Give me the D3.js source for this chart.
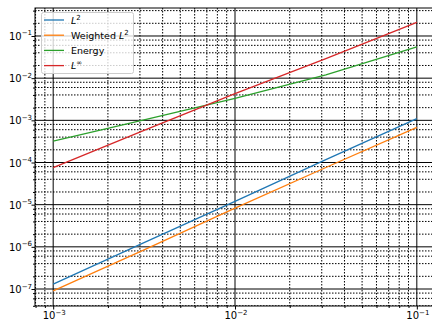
<!DOCTYPE html>
<html>
<head>
<meta charset="utf-8">
<script src="https://cdn.jsdelivr.net/npm/d3@7"></script>
<style>
  body { margin: 0; background: #fff; }
  svg { display: block; font-family: "DejaVu Sans", sans-serif; }
</style>
</head>
<body>
<div id="chart"></div>
<script>
// step sizes h
var hs = [0.001, 0.00316, 0.01, 0.0316, 0.1];

// errors per norm
var l2 = [1.3e-7, 1.26e-6, 1.2e-5, 1.17e-4, 1.1e-3];
var weightedL2 = [9e-8, 8.5e-7, 8.3e-6, 7.6e-5, 6.8e-4];
var energy = [3.2e-4, 1.02e-3, 3.3e-3, 1.2e-2, 5.5e-2];
var linf = [7.6e-5, 5.8e-4, 4.3e-3, 2.9e-2, 0.21];

var seriesNames = ["L2", "WL2", "Energy", "Linf"];
var seriesColors = ["#1f77b4", "#ff7f0e", "#2ca02c", "#d62728"];

var xTicks = [1e-3, 1e-2, 1e-1];
var yTicks = [1e-7, 1e-6, 1e-5, 1e-4, 1e-3, 1e-2, 1e-1];
var xSubs = [2, 3, 4, 5, 6, 7, 8, 9];
var ySubs = [2, 4, 6, 8];

(function(){
	var width = 432, height = 320;
	var left = 35, right = 435, top = 8, bottom = 306;

	var svg = d3.select("#chart").append("svg")
		.attr("width", width)
		.attr("height", height);

	var x = d3.scaleLog().domain([Math.pow(10, -3.1), Math.pow(10, -0.9)]).range([left, right]);
	var y = d3.scaleLog().domain([Math.pow(10, -7.403), Math.pow(10, -0.336)]).range([bottom, top]);

	// minor positions
	var xMinor = [], yMinor = [];
	for (var e = -9; e <= 0; e++) {
		xSubs.forEach(function(k){
			var v = k * Math.pow(10, e);
			if (x(v) > left && x(v) < right) xMinor.push(v);
		});
		ySubs.forEach(function(k){
			var v = k * Math.pow(10, e);
			if (y(v) > top && y(v) < bottom) yMinor.push(v);
		});
	}

	svg.append("defs").append("clipPath").attr("id", "clip")
		.append("rect").attr("x", left).attr("y", top)
		.attr("width", right - left).attr("height", bottom - top);

	var grid = svg.append("g").attr("clip-path", "url(#clip)");

	grid.selectAll(".xminor").data(xMinor).enter().append("line")
		.attr("x1", d => x(d)).attr("x2", d => x(d))
		.attr("y1", top).attr("y2", bottom)
		.attr("stroke", "#000").attr("stroke-width", 1)
		.attr("stroke-dasharray", "1.5,1.5");
	grid.selectAll(".yminor").data(yMinor).enter().append("line")
		.attr("y1", d => y(d)).attr("y2", d => y(d))
		.attr("x1", left).attr("x2", right)
		.attr("stroke", "#000").attr("stroke-width", 1)
		.attr("stroke-dasharray", "1.5,1.5");
	grid.selectAll(".xmajor").data(xTicks).enter().append("line")
		.attr("x1", d => x(d)).attr("x2", d => x(d))
		.attr("y1", top).attr("y2", bottom)
		.attr("stroke", "#000").attr("stroke-width", 1);
	grid.selectAll(".ymajor").data(yTicks).enter().append("line")
		.attr("y1", d => y(d)).attr("y2", d => y(d))
		.attr("x1", left).attr("x2", right)
		.attr("stroke", "#000").attr("stroke-width", 1);

	// lines
	var allSeries = [l2, weightedL2, energy, linf];
	var line = d3.line()
		.x(function(d, i){ return x(hs[i]); })
		.y(function(d){ return y(d); });
	grid.selectAll(".series").data(allSeries).enter().append("path")
		.attr("d", line)
		.attr("fill", "none")
		.attr("stroke", function(d, i){ return seriesColors[i]; })
		.attr("stroke-width", 1.3);

	// spines
	svg.append("rect").attr("x", left).attr("y", top)
		.attr("width", right - left).attr("height", bottom - top)
		.attr("fill", "none").attr("stroke", "#000").attr("stroke-width", 1);

	// axes
	var xAxis = d3.axisBottom(x).tickValues(xTicks.concat(xMinor)).tickFormat("").tickSizeOuter(0)
		.tickSizeInner(2);
	var gx = svg.append("g").attr("transform", "translate(0," + bottom + ")").call(xAxis);
	gx.select(".domain").remove();
	gx.selectAll(".tick line").filter(d => xTicks.indexOf(d) >= 0).attr("y2", 3.5);

	var yAxis = d3.axisLeft(y).tickValues(yTicks.concat(yMinor)).tickFormat("").tickSizeOuter(0)
		.tickSizeInner(2);
	var gy = svg.append("g").attr("transform", "translate(" + left + ",0)").call(yAxis);
	gy.select(".domain").remove();
	gy.selectAll(".tick line").filter(d => yTicks.indexOf(d) >= 0).attr("x2", -3.5);

	function powLabel(sel, d) {
		var e = Math.round(Math.log10(d));
		sel.append("tspan").text("10");
		sel.append("tspan").attr("dy", -4.5).attr("font-size", 7).text("\u2212" + Math.abs(e));
	}

	svg.selectAll(".xlab").data(xTicks).enter().append("text")
		.attr("x", d => x(d) + 1).attr("y", 319)
		.attr("text-anchor", "middle").attr("font-size", 10).attr("fill", "#000")
		.each(function(d){ powLabel(d3.select(this), d); });

	svg.selectAll(".ylab").data(yTicks).enter().append("text")
		.attr("x", 32).attr("y", d => y(d) + 4)
		.attr("text-anchor", "end").attr("font-size", 10).attr("fill", "#000")
		.each(function(d){ powLabel(d3.select(this), d); });

	// legend
	var lg = svg.append("g");
	lg.append("rect").attr("x", 41.5).attr("y", 12.5).attr("width", 92).attr("height", 61)
		.attr("rx", 2).attr("fill", "#fff").attr("fill-opacity", 0.8)
		.attr("stroke", "#ccc").attr("stroke-width", 1);
	var rows = lg.selectAll(".row").data(seriesNames).enter().append("g")
		.attr("transform", function(d, i){ return "translate(0," + (20 + i * 15.2) + ")"; });
	rows.append("line").attr("x1", 44).attr("x2", 64)
		.attr("stroke", function(d, i){ return seriesColors[i]; }).attr("stroke-width", 1.3);
	rows.append("text").attr("x", 71).attr("y", 3.5).attr("font-size", 9.5).attr("fill", "#000")
		.each(function(d){
			var t = d3.select(this);
			if (d == "L2" || d == "WL2") {
				if (d == "WL2") t.append("tspan").text("Weighted ");
				t.append("tspan").attr("font-style", "italic").text("L");
				t.append("tspan").attr("dy", -4).attr("font-size", 7).text("2");
			} else if (d == "Linf") {
				t.append("tspan").attr("font-style", "italic").text("L");
				t.append("tspan").attr("dy", -4).attr("font-size", 7).text("\u221e");
			} else {
				t.text(d);
			}
		});
})();
</script>
</body>
</html>
